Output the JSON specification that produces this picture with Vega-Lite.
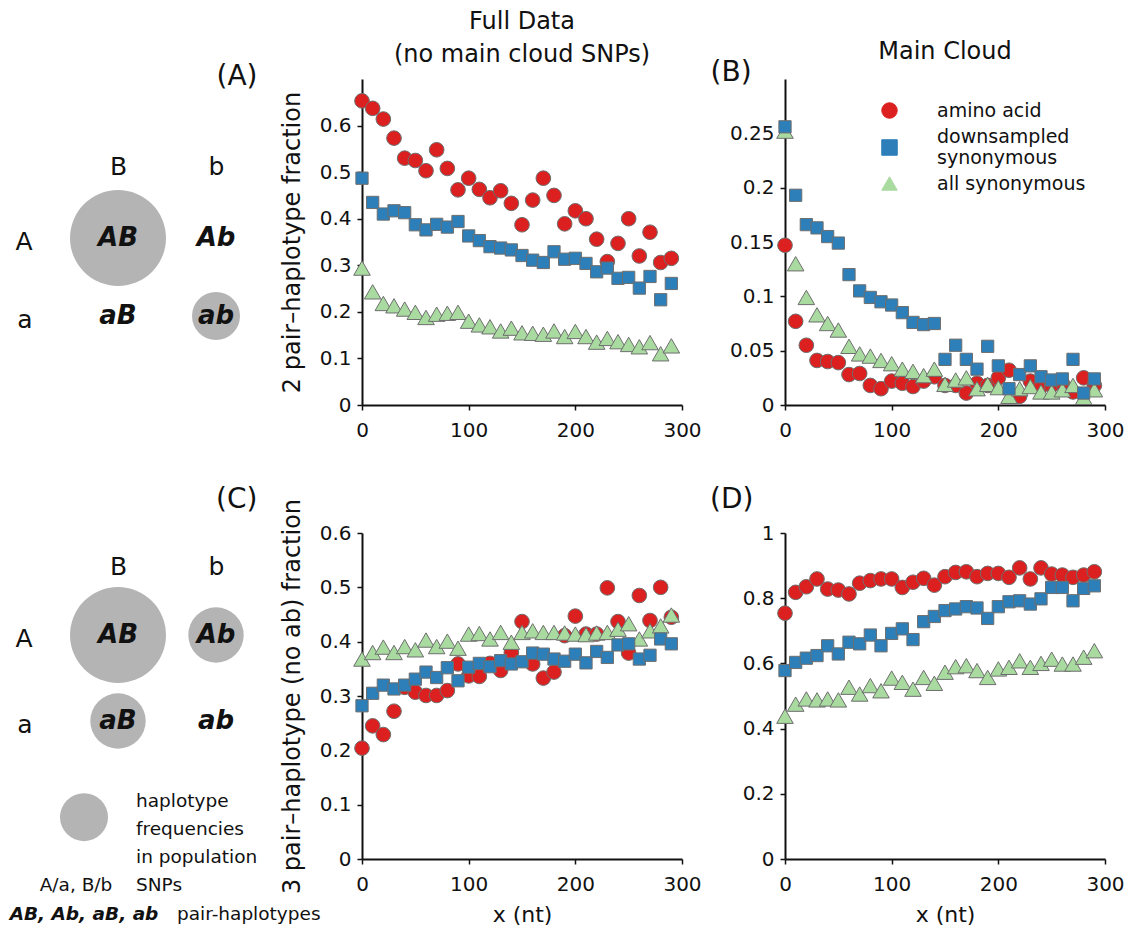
{
  "$schema": "https://vega.github.io/schema/vega-lite/v6.json",
  "padding": {"left": 9, "top": 10, "right": 4, "bottom": 2},
  "background": "white",
  "config": {
    "font": "DejaVu Sans",
    "view": {"stroke": null},
    "axis": {
      "grid": false,
      "domainColor": "#111111",
      "domainWidth": 2,
      "tickColor": "#111111",
      "tickWidth": 1.5,
      "tickSize": 5,
      "labelColor": "#111111",
      "labelFont": "DejaVu Sans",
      "labelFontSize": 20,
      "titleColor": "#111111",
      "titleFont": "DejaVu Sans",
      "titleFontWeight": "normal",
      "titleFontSize": 24
    },
    "title": {"font": "DejaVu Sans", "fontWeight": "normal", "color": "#111111"},
    "text": {"font": "DejaVu Sans", "color": "#111111"}
  },
  "columns": 3,
  "bounds": "flush",
  "align": "each",
  "spacing": {"column": 103, "row": 128},
  "resolve": {"scale": {"color": "independent", "shape": "independent"}},
  "datasets": {
    "two_pair": [
      {"snpA": "A", "snpB": "B", "haplotype": "AB", "frequency": 0.6},
      {"snpA": "A", "snpB": "b", "haplotype": "Ab", "frequency": 0},
      {"snpA": "a", "snpB": "B", "haplotype": "aB", "frequency": 0},
      {"snpA": "a", "snpB": "b", "haplotype": "ab", "frequency": 0.15}
    ],
    "three_pair": [
      {"snpA": "A", "snpB": "B", "haplotype": "AB", "frequency": 0.6},
      {"snpA": "A", "snpB": "b", "haplotype": "Ab", "frequency": 0.2},
      {"snpA": "a", "snpB": "B", "haplotype": "aB", "frequency": 0.2},
      {"snpA": "a", "snpB": "b", "haplotype": "ab", "frequency": 0}
    ],
    "full_two": [
      {"x": 0, "amino acid": 0.653, "downsampled synonymous": 0.487, "all synonymous": 0.294},
      {"x": 10, "amino acid": 0.637, "downsampled synonymous": 0.435, "all synonymous": 0.243},
      {"x": 20, "amino acid": 0.614, "downsampled synonymous": 0.41, "all synonymous": 0.218},
      {"x": 30, "amino acid": 0.573, "downsampled synonymous": 0.417, "all synonymous": 0.213},
      {"x": 40, "amino acid": 0.53, "downsampled synonymous": 0.413, "all synonymous": 0.206},
      {"x": 50, "amino acid": 0.525, "downsampled synonymous": 0.387, "all synonymous": 0.199},
      {"x": 60, "amino acid": 0.503, "downsampled synonymous": 0.376, "all synonymous": 0.188},
      {"x": 70, "amino acid": 0.548, "downsampled synonymous": 0.388, "all synonymous": 0.195},
      {"x": 80, "amino acid": 0.508, "downsampled synonymous": 0.382, "all synonymous": 0.197},
      {"x": 90, "amino acid": 0.462, "downsampled synonymous": 0.394, "all synonymous": 0.199},
      {"x": 100, "amino acid": 0.487, "downsampled synonymous": 0.363, "all synonymous": 0.18},
      {"x": 110, "amino acid": 0.463, "downsampled synonymous": 0.353, "all synonymous": 0.172},
      {"x": 120, "amino acid": 0.445, "downsampled synonymous": 0.34, "all synonymous": 0.168},
      {"x": 130, "amino acid": 0.46, "downsampled synonymous": 0.337, "all synonymous": 0.159},
      {"x": 140, "amino acid": 0.433, "downsampled synonymous": 0.333, "all synonymous": 0.165},
      {"x": 150, "amino acid": 0.387, "downsampled synonymous": 0.321, "all synonymous": 0.155},
      {"x": 160, "amino acid": 0.44, "downsampled synonymous": 0.311, "all synonymous": 0.154},
      {"x": 170, "amino acid": 0.487, "downsampled synonymous": 0.306, "all synonymous": 0.152},
      {"x": 180, "amino acid": 0.45, "downsampled synonymous": 0.329, "all synonymous": 0.159},
      {"x": 190, "amino acid": 0.389, "downsampled synonymous": 0.313, "all synonymous": 0.147},
      {"x": 200, "amino acid": 0.417, "downsampled synonymous": 0.315, "all synonymous": 0.158},
      {"x": 210, "amino acid": 0.4, "downsampled synonymous": 0.304, "all synonymous": 0.147},
      {"x": 220, "amino acid": 0.356, "downsampled synonymous": 0.286, "all synonymous": 0.135},
      {"x": 230, "amino acid": 0.308, "downsampled synonymous": 0.294, "all synonymous": 0.143},
      {"x": 240, "amino acid": 0.347, "downsampled synonymous": 0.272, "all synonymous": 0.136},
      {"x": 250, "amino acid": 0.4, "downsampled synonymous": 0.274, "all synonymous": 0.13},
      {"x": 260, "amino acid": 0.32, "downsampled synonymous": 0.251, "all synonymous": 0.125},
      {"x": 270, "amino acid": 0.371, "downsampled synonymous": 0.276, "all synonymous": 0.134},
      {"x": 280, "amino acid": 0.306, "downsampled synonymous": 0.226, "all synonymous": 0.11},
      {"x": 290, "amino acid": 0.315, "downsampled synonymous": 0.261, "all synonymous": 0.127}
    ],
    "cloud_two": [
      {"x": 0, "amino acid": 0.147, "downsampled synonymous": 0.256, "all synonymous": 0.252},
      {"x": 10, "amino acid": 0.077, "downsampled synonymous": 0.193, "all synonymous": 0.13},
      {"x": 20, "amino acid": 0.055, "downsampled synonymous": 0.166, "all synonymous": 0.099},
      {"x": 30, "amino acid": 0.041, "downsampled synonymous": 0.163, "all synonymous": 0.083},
      {"x": 40, "amino acid": 0.04, "downsampled synonymous": 0.155, "all synonymous": 0.075},
      {"x": 50, "amino acid": 0.039, "downsampled synonymous": 0.149, "all synonymous": 0.069},
      {"x": 60, "amino acid": 0.028, "downsampled synonymous": 0.12, "all synonymous": 0.054},
      {"x": 70, "amino acid": 0.029, "downsampled synonymous": 0.105, "all synonymous": 0.047},
      {"x": 80, "amino acid": 0.018, "downsampled synonymous": 0.099, "all synonymous": 0.045},
      {"x": 90, "amino acid": 0.015, "downsampled synonymous": 0.095, "all synonymous": 0.041},
      {"x": 100, "amino acid": 0.022, "downsampled synonymous": 0.092, "all synonymous": 0.038},
      {"x": 110, "amino acid": 0.02, "downsampled synonymous": 0.085, "all synonymous": 0.033},
      {"x": 120, "amino acid": 0.017, "downsampled synonymous": 0.076, "all synonymous": 0.031},
      {"x": 130, "amino acid": 0.022, "downsampled synonymous": 0.074, "all synonymous": 0.027},
      {"x": 140, "amino acid": 0.026, "downsampled synonymous": 0.075, "all synonymous": 0.033},
      {"x": 150, "amino acid": 0.018, "downsampled synonymous": 0.042, "all synonymous": 0.019},
      {"x": 160, "amino acid": 0.018, "downsampled synonymous": 0.055, "all synonymous": 0.023},
      {"x": 170, "amino acid": 0.011, "downsampled synonymous": 0.042, "all synonymous": 0.025},
      {"x": 180, "amino acid": 0.02, "downsampled synonymous": 0.033, "all synonymous": 0.015},
      {"x": 190, "amino acid": 0.018, "downsampled synonymous": 0.054, "all synonymous": 0.019},
      {"x": 200, "amino acid": 0.025, "downsampled synonymous": 0.036, "all synonymous": 0.016},
      {"x": 210, "amino acid": 0.032, "downsampled synonymous": 0.015, "all synonymous": 0.008},
      {"x": 220, "amino acid": 0.008, "downsampled synonymous": 0.028, "all synonymous": 0.015},
      {"x": 230, "amino acid": 0.022, "downsampled synonymous": 0.036, "all synonymous": 0.017},
      {"x": 240, "amino acid": 0.017, "downsampled synonymous": 0.026, "all synonymous": 0.012},
      {"x": 250, "amino acid": 0.018, "downsampled synonymous": 0.023, "all synonymous": 0.012},
      {"x": 260, "amino acid": 0.02, "downsampled synonymous": 0.024, "all synonymous": 0.014},
      {"x": 270, "amino acid": 0.012, "downsampled synonymous": 0.042, "all synonymous": 0.018},
      {"x": 280, "amino acid": 0.025, "downsampled synonymous": 0.011, "all synonymous": 0.007},
      {"x": 290, "amino acid": 0.018, "downsampled synonymous": 0.024, "all synonymous": 0.014}
    ],
    "full_three": [
      {"x": 0, "amino acid": 0.204, "downsampled synonymous": 0.282, "all synonymous": 0.368},
      {"x": 10, "amino acid": 0.245, "downsampled synonymous": 0.305, "all synonymous": 0.38},
      {"x": 20, "amino acid": 0.229, "downsampled synonymous": 0.32, "all synonymous": 0.39},
      {"x": 30, "amino acid": 0.272, "downsampled synonymous": 0.313, "all synonymous": 0.38},
      {"x": 40, "amino acid": 0.316, "downsampled synonymous": 0.32, "all synonymous": 0.391},
      {"x": 50, "amino acid": 0.307, "downsampled synonymous": 0.331, "all synonymous": 0.385},
      {"x": 60, "amino acid": 0.301, "downsampled synonymous": 0.344, "all synonymous": 0.403},
      {"x": 70, "amino acid": 0.301, "downsampled synonymous": 0.334, "all synonymous": 0.391},
      {"x": 80, "amino acid": 0.31, "downsampled synonymous": 0.352, "all synonymous": 0.401},
      {"x": 90, "amino acid": 0.359, "downsampled synonymous": 0.328, "all synonymous": 0.388},
      {"x": 100, "amino acid": 0.337, "downsampled synonymous": 0.353, "all synonymous": 0.414},
      {"x": 110, "amino acid": 0.336, "downsampled synonymous": 0.36, "all synonymous": 0.415},
      {"x": 120, "amino acid": 0.36, "downsampled synonymous": 0.354, "all synonymous": 0.405},
      {"x": 130, "amino acid": 0.347, "downsampled synonymous": 0.365, "all synonymous": 0.417},
      {"x": 140, "amino acid": 0.38, "downsampled synonymous": 0.359, "all synonymous": 0.399},
      {"x": 150, "amino acid": 0.437, "downsampled synonymous": 0.363, "all synonymous": 0.417},
      {"x": 160, "amino acid": 0.359, "downsampled synonymous": 0.379, "all synonymous": 0.42},
      {"x": 170, "amino acid": 0.333, "downsampled synonymous": 0.377, "all synonymous": 0.417},
      {"x": 180, "amino acid": 0.344, "downsampled synonymous": 0.368, "all synonymous": 0.417},
      {"x": 190, "amino acid": 0.411, "downsampled synonymous": 0.364, "all synonymous": 0.416},
      {"x": 200, "amino acid": 0.447, "downsampled synonymous": 0.377, "all synonymous": 0.414},
      {"x": 210, "amino acid": 0.414, "downsampled synonymous": 0.361, "all synonymous": 0.413},
      {"x": 220, "amino acid": 0.414, "downsampled synonymous": 0.382, "all synonymous": 0.416},
      {"x": 230, "amino acid": 0.499, "downsampled synonymous": 0.371, "all synonymous": 0.417},
      {"x": 240, "amino acid": 0.437, "downsampled synonymous": 0.394, "all synonymous": 0.423},
      {"x": 250, "amino acid": 0.379, "downsampled synonymous": 0.396, "all synonymous": 0.433},
      {"x": 260, "amino acid": 0.485, "downsampled synonymous": 0.368, "all synonymous": 0.405},
      {"x": 270, "amino acid": 0.439, "downsampled synonymous": 0.375, "all synonymous": 0.42},
      {"x": 280, "amino acid": 0.5, "downsampled synonymous": 0.405, "all synonymous": 0.429},
      {"x": 290, "amino acid": 0.445, "downsampled synonymous": 0.396, "all synonymous": 0.449}
    ],
    "cloud_three": [
      {"x": 0, "amino acid": 0.754, "downsampled synonymous": 0.578, "all synonymous": 0.438},
      {"x": 10, "amino acid": 0.818, "downsampled synonymous": 0.603, "all synonymous": 0.475},
      {"x": 20, "amino acid": 0.835, "downsampled synonymous": 0.616, "all synonymous": 0.491},
      {"x": 30, "amino acid": 0.859, "downsampled synonymous": 0.624, "all synonymous": 0.488},
      {"x": 40, "amino acid": 0.828, "downsampled synonymous": 0.654, "all synonymous": 0.491},
      {"x": 50, "amino acid": 0.825, "downsampled synonymous": 0.629, "all synonymous": 0.488},
      {"x": 60, "amino acid": 0.813, "downsampled synonymous": 0.665, "all synonymous": 0.527},
      {"x": 70, "amino acid": 0.846, "downsampled synonymous": 0.66, "all synonymous": 0.506},
      {"x": 80, "amino acid": 0.854, "downsampled synonymous": 0.687, "all synonymous": 0.532},
      {"x": 90, "amino acid": 0.859, "downsampled synonymous": 0.654, "all synonymous": 0.516},
      {"x": 100, "amino acid": 0.859, "downsampled synonymous": 0.692, "all synonymous": 0.555},
      {"x": 110, "amino acid": 0.833, "downsampled synonymous": 0.706, "all synonymous": 0.542},
      {"x": 120, "amino acid": 0.849, "downsampled synonymous": 0.673, "all synonymous": 0.521},
      {"x": 130, "amino acid": 0.861, "downsampled synonymous": 0.728, "all synonymous": 0.557},
      {"x": 140, "amino acid": 0.84, "downsampled synonymous": 0.744, "all synonymous": 0.539},
      {"x": 150, "amino acid": 0.866, "downsampled synonymous": 0.762, "all synonymous": 0.573},
      {"x": 160, "amino acid": 0.879, "downsampled synonymous": 0.767, "all synonymous": 0.59},
      {"x": 170, "amino acid": 0.881, "downsampled synonymous": 0.774, "all synonymous": 0.593},
      {"x": 180, "amino acid": 0.866, "downsampled synonymous": 0.77, "all synonymous": 0.578},
      {"x": 190, "amino acid": 0.876, "downsampled synonymous": 0.738, "all synonymous": 0.557},
      {"x": 200, "amino acid": 0.876, "downsampled synonymous": 0.774, "all synonymous": 0.583},
      {"x": 210, "amino acid": 0.864, "downsampled synonymous": 0.789, "all synonymous": 0.588},
      {"x": 220, "amino acid": 0.893, "downsampled synonymous": 0.792, "all synonymous": 0.608},
      {"x": 230, "amino acid": 0.859, "downsampled synonymous": 0.782, "all synonymous": 0.588},
      {"x": 240, "amino acid": 0.893, "downsampled synonymous": 0.798, "all synonymous": 0.6},
      {"x": 250, "amino acid": 0.874, "downsampled synonymous": 0.833, "all synonymous": 0.613},
      {"x": 260, "amino acid": 0.871, "downsampled synonymous": 0.833, "all synonymous": 0.598},
      {"x": 270, "amino acid": 0.864, "downsampled synonymous": 0.792, "all synonymous": 0.598},
      {"x": 280, "amino acid": 0.871, "downsampled synonymous": 0.83, "all synonymous": 0.619},
      {"x": 290, "amino acid": 0.881, "downsampled synonymous": 0.838, "all synonymous": 0.639}
    ]
  },
  "concat": [
    {
      "width": 214,
      "height": 326,
      "data": {"name": "two_pair"},
      "encoding": {
        "x": {"field": "snpB", "type": "nominal",
          "scale": {"type": "point", "domain": ["B", "b"], "range": [73, 171], "padding": 0},
          "axis": {"orient": "top", "offset": -95, "domain": false, "ticks": false, "tickSize": 0, "labelPadding": 0, "labelBaseline": "alphabetic", "labelAngle": 0, "labelFontSize": 25, "title": null}},
        "y": {"field": "snpA", "type": "nominal",
          "scale": {"type": "point", "domain": ["A", "a"], "range": [159, 237], "padding": 0},
          "axis": {"orient": "left", "domain": false, "ticks": false, "tickSize": 0, "labelPadding": 13, "labelFontSize": 25, "labelOffset": 3, "title": null}}
      },
      "layer": [
        {"transform": [{"filter": "datum.frequency > 0"}],
         "mark": {"type": "circle", "color": "#b4b4b4", "opacity": 1},
         "encoding": {"size": {"field": "frequency", "type": "quantitative", "scale": {"domain": [0, 1], "range": [0, 15360]}, "legend": null}}},
        {"mark": {"type": "text", "fontSize": 26, "fontWeight": "bold", "fontStyle": "italic", "baseline": "middle"},
         "encoding": {"text": {"field": "haplotype"}}}
      ]
    },
    {
      "width": 320,
      "height": 326,
      "title": {"text": ["Full Data", "(no main cloud SNPs)"], "fontSize": 24, "anchor": "middle", "frame": "group", "baseline": "bottom", "lineHeight": 32.5, "offset": -28.5},
      "data": {"name": "full_two"},
      "transform": [{"fold": ["amino acid", "downsampled synonymous", "all synonymous"], "as": ["series", "fraction"]}],
      "encoding": {
        "x": {"field": "x", "type": "quantitative", "scale": {"domain": [0, 300], "nice": false},
          "axis": {"values": [0, 100, 200, 300], "format": "d", "labelPadding": 10, "labelFlush": false, "labelOverlap": false, "title": null}},
        "y": {"field": "fraction", "type": "quantitative", "scale": {"domain": [0, 0.7], "nice": false},
          "axis": {"values": [0, 0.1, 0.2, 0.3, 0.4, 0.5, 0.6], "format": ".1~f", "labelPadding": 6, "labelOverlap": false, "title": "2 pair\u2013haplotype fraction", "titlePadding": 15}},
        "color": {"field": "series", "type": "nominal", "scale": {"domain": ["amino acid", "downsampled synonymous", "all synonymous"], "range": ["#dc1f1f", "#2c7fb8", "#a9dba1"]}, "legend": null},
        "shape": {"field": "series", "type": "nominal", "scale": {"domain": ["amino acid", "downsampled synonymous", "all synonymous"], "range": ["circle", "square", "triangle-up"]}, "legend": null}
      },
      "layer": [
        {"layer": [
          {"transform": [{"filter": "datum.series == 'amino acid'"}], "mark": {"type": "point", "filled": true, "opacity": 1, "stroke": "#6e6e6e", "strokeWidth": 1, "size": 215}},
          {"transform": [{"filter": "datum.series == 'all synonymous'"}], "mark": {"type": "point", "filled": true, "opacity": 1, "stroke": "#6e6e6e", "strokeWidth": 1, "size": 275}},
          {"transform": [{"filter": "datum.series == 'downsampled synonymous'"}], "mark": {"type": "point", "filled": true, "opacity": 1, "stroke": "#6e6e6e", "strokeWidth": 1, "size": 150}}
        ]},
        {"data": {"values": []}, "mark": {"type": "point"},
         "encoding": {"x": {"field": "x", "type": "quantitative", "axis": {"orient": "top", "domain": false, "ticks": false, "labels": false, "title": "(A)", "titleFontSize": 28, "titleX": -146, "titleY": 5, "titleAlign": "left", "titleBaseline": "alphabetic", "titleAngle": 0}}}}
      ],
      "resolve": {"axis": {"x": "independent"}}
    },
    {
      "width": 320,
      "height": 326,
      "title": {"text": "Main Cloud", "fontSize": 24, "anchor": "middle", "frame": "group", "baseline": "bottom", "offset": -30},
      "data": {"name": "cloud_two"},
      "transform": [{"fold": ["amino acid", "downsampled synonymous", "all synonymous"], "as": ["series", "fraction"]}],
      "encoding": {
        "x": {"field": "x", "type": "quantitative", "scale": {"domain": [0, 300], "nice": false},
          "axis": {"values": [0, 100, 200, 300], "format": "d", "labelPadding": 10, "labelFlush": false, "labelOverlap": false, "title": null}},
        "y": {"field": "fraction", "type": "quantitative", "scale": {"domain": [0, 0.3], "nice": false},
          "axis": {"values": [0, 0.05, 0.1, 0.15, 0.2, 0.25], "format": ".2~f", "labelPadding": 6, "labelOverlap": false, "title": null}},
        "color": {"field": "series", "type": "nominal", "scale": {"domain": ["amino acid", "downsampled synonymous", "all synonymous"], "range": ["#dc1f1f", "#2c7fb8", "#a9dba1"]},
          "legend": {"title": null, "orient": "none", "legendX": 95, "legendY": 22, "padding": 0, "labelFontSize": 19, "labelOffset": 38, "labelLimit": 0, "symbolSize": 240, "symbolStrokeColor": "#6e6e6e", "symbolStrokeWidth": 1, "symbolOpacity": 1, "rowPadding": 6, "labelColor": "#111111",
            "labelExpr": "datum.label == 'downsampled synonymous' ? ['downsampled', 'synonymous'] : datum.label",
            "encode": {"labels": {"update": {"dy": {"signal": "datum.value == 'downsampled synonymous' ? -11 : 0"}}}}}},
        "shape": {"field": "series", "type": "nominal", "scale": {"domain": ["amino acid", "downsampled synonymous", "all synonymous"], "range": ["circle", "square", "triangle-up"]},
          "legend": {"title": null, "orient": "none", "legendX": 95, "legendY": 22, "padding": 0, "labelFontSize": 19, "labelOffset": 38, "labelLimit": 0, "symbolSize": 240, "symbolStrokeColor": "#6e6e6e", "symbolStrokeWidth": 1, "symbolOpacity": 1, "rowPadding": 6, "labelColor": "#111111",
            "labelExpr": "datum.label == 'downsampled synonymous' ? ['downsampled', 'synonymous'] : datum.label",
            "encode": {"labels": {"update": {"dy": {"signal": "datum.value == 'downsampled synonymous' ? -11 : 0"}}}}}}
      },
      "layer": [
        {"layer": [
          {"transform": [{"filter": "datum.series == 'amino acid'"}], "mark": {"type": "point", "filled": true, "opacity": 1, "stroke": "#6e6e6e", "strokeWidth": 1, "size": 215}},
          {"transform": [{"filter": "datum.series == 'all synonymous'"}], "mark": {"type": "point", "filled": true, "opacity": 1, "stroke": "#6e6e6e", "strokeWidth": 1, "size": 275}},
          {"transform": [{"filter": "datum.series == 'downsampled synonymous'"}], "mark": {"type": "point", "filled": true, "opacity": 1, "stroke": "#6e6e6e", "strokeWidth": 1, "size": 150}}
        ]},
        {"data": {"values": []}, "mark": {"type": "point"},
         "encoding": {"x": {"field": "x", "type": "quantitative", "axis": {"orient": "top", "domain": false, "ticks": false, "labels": false, "title": "(B)", "titleFontSize": 28, "titleX": -75, "titleY": 1, "titleAlign": "left", "titleBaseline": "alphabetic", "titleAngle": 0}}}}
      ],
      "resolve": {"axis": {"x": "independent"}}
    },
    {
      "width": 214,
      "height": 396,
      "layer": [
        {
          "data": {"name": "three_pair"},
          "encoding": {
            "x": {"field": "snpB", "type": "nominal",
              "scale": {"type": "point", "domain": ["B", "b"], "range": [73, 171], "padding": 0},
              "axis": {"orient": "top", "offset": -41, "domain": false, "ticks": false, "tickSize": 0, "labelPadding": 0, "labelBaseline": "alphabetic", "labelAngle": 0, "labelFontSize": 25, "title": null}},
            "y": {"field": "snpA", "type": "nominal",
              "scale": {"type": "point", "domain": ["A", "a"], "range": [102, 188], "padding": 0},
              "axis": {"orient": "left", "domain": false, "ticks": false, "tickSize": 0, "labelPadding": 13, "labelFontSize": 25, "labelOffset": 3, "title": null}}
          },
          "layer": [
            {"transform": [{"filter": "datum.frequency > 0"}],
             "mark": {"type": "circle", "color": "#b4b4b4", "opacity": 1},
             "encoding": {"size": {"field": "frequency", "type": "quantitative", "scale": {"domain": [0, 1], "range": [0, 15360]}, "legend": null}}},
            {"mark": {"type": "text", "fontSize": 26, "fontWeight": "bold", "fontStyle": "italic", "baseline": "middle"},
             "encoding": {"text": {"field": "haplotype"}}}
          ]
        },
        {
          "encoding": {
            "x": {"field": "col", "type": "nominal", "scale": {"type": "point", "domain": ["symbol", "meaning"], "range": [39, 91], "padding": 0}, "axis": null},
            "y": {"field": "line", "type": "ordinal", "scale": {"type": "point", "domain": [1, 2, 3, 4, 5], "range": [268, 380.6], "padding": 0}, "axis": null}
          },
          "layer": [
            {"data": {"values": [{"col": "symbol", "line": 2, "frequency": 0.15}]},
             "mark": {"type": "circle", "color": "#b4b4b4", "opacity": 1, "yOffset": -12},
             "encoding": {"size": {"field": "frequency", "type": "quantitative", "scale": {"domain": [0, 1], "range": [0, 15360]}, "legend": null}}},
            {"data": {"values": [
                {"col": "meaning", "line": 1, "text": "haplotype"},
                {"col": "meaning", "line": 2, "text": "frequencies"},
                {"col": "meaning", "line": 3, "text": "in population"},
                {"col": "meaning", "line": 4, "text": "SNPs"}
              ]},
             "mark": {"type": "text", "align": "left", "baseline": "middle", "fontSize": 18.5},
             "encoding": {"text": {"field": "text"}}},
            {"data": {"values": [{"col": "symbol", "line": 4, "text": "A/a, B/b"}]},
             "mark": {"type": "text", "align": "center", "baseline": "middle", "fontSize": 18.5, "dx": -8},
             "encoding": {"text": {"field": "text"}}},
            {"data": {"values": [{"col": "symbol", "line": 5, "text": "AB, Ab, aB, ab"}]},
             "mark": {"type": "text", "align": "center", "baseline": "middle", "fontSize": 18.5, "fontWeight": "bold", "fontStyle": "italic"},
             "encoding": {"text": {"field": "text"}}},
            {"data": {"values": [{"col": "meaning", "line": 5, "text": "pair-haplotypes"}]},
             "mark": {"type": "text", "align": "left", "baseline": "middle", "fontSize": 18.5, "dx": 41},
             "encoding": {"text": {"field": "text"}}}
          ]
        }
      ],
      "resolve": {"scale": {"x": "independent", "y": "independent"}}
    },
    {
      "width": 320,
      "height": 326,
      "title": {"text": "(C)", "fontSize": 28, "anchor": "start", "frame": "group", "dx": -146, "baseline": "alphabetic", "offset": -37.5},
      "data": {"name": "full_three"},
      "transform": [{"fold": ["amino acid", "downsampled synonymous", "all synonymous"], "as": ["series", "fraction"]}],
      "encoding": {
        "x": {"field": "x", "type": "quantitative", "scale": {"domain": [0, 300], "nice": false},
          "axis": {"values": [0, 100, 200, 300], "format": "d", "labelPadding": 10, "labelFlush": false, "labelOverlap": false, "title": "x (nt)", "titleFontSize": 22, "titlePadding": 10}},
        "y": {"field": "fraction", "type": "quantitative", "scale": {"domain": [0, 0.6], "nice": false},
          "axis": {"values": [0, 0.1, 0.2, 0.3, 0.4, 0.5, 0.6], "format": ".1~f", "labelPadding": 6, "labelOverlap": false, "title": "3 pair\u2013haplotype (no ab) fraction", "titlePadding": 15}},
        "color": {"field": "series", "type": "nominal", "scale": {"domain": ["amino acid", "downsampled synonymous", "all synonymous"], "range": ["#dc1f1f", "#2c7fb8", "#a9dba1"]}, "legend": null},
        "shape": {"field": "series", "type": "nominal", "scale": {"domain": ["amino acid", "downsampled synonymous", "all synonymous"], "range": ["circle", "square", "triangle-up"]}, "legend": null}
      },
      "layer": [
        {"transform": [{"filter": "datum.series == 'amino acid'"}], "mark": {"type": "point", "filled": true, "opacity": 1, "stroke": "#6e6e6e", "strokeWidth": 1, "size": 215}},
        {"transform": [{"filter": "datum.series == 'all synonymous'"}], "mark": {"type": "point", "filled": true, "opacity": 1, "stroke": "#6e6e6e", "strokeWidth": 1, "size": 275}},
        {"transform": [{"filter": "datum.series == 'downsampled synonymous'"}], "mark": {"type": "point", "filled": true, "opacity": 1, "stroke": "#6e6e6e", "strokeWidth": 1, "size": 150}}
      ]
    },
    {
      "width": 320,
      "height": 326,
      "title": {"text": "(D)", "fontSize": 28, "anchor": "start", "frame": "group", "dx": -75, "baseline": "alphabetic", "offset": -12.5},
      "data": {"name": "cloud_three"},
      "transform": [{"fold": ["amino acid", "downsampled synonymous", "all synonymous"], "as": ["series", "fraction"]}],
      "encoding": {
        "x": {"field": "x", "type": "quantitative", "scale": {"domain": [0, 300], "nice": false},
          "axis": {"values": [0, 100, 200, 300], "format": "d", "labelPadding": 10, "labelFlush": false, "labelOverlap": false, "title": "x (nt)", "titleFontSize": 22, "titlePadding": 10}},
        "y": {"field": "fraction", "type": "quantitative", "scale": {"domain": [0, 1], "nice": false},
          "axis": {"values": [0, 0.2, 0.4, 0.6, 0.8, 1], "format": ".1~f", "labelPadding": 6, "labelOverlap": false, "title": null}},
        "color": {"field": "series", "type": "nominal", "scale": {"domain": ["amino acid", "downsampled synonymous", "all synonymous"], "range": ["#dc1f1f", "#2c7fb8", "#a9dba1"]}, "legend": null},
        "shape": {"field": "series", "type": "nominal", "scale": {"domain": ["amino acid", "downsampled synonymous", "all synonymous"], "range": ["circle", "square", "triangle-up"]}, "legend": null}
      },
      "layer": [
        {"transform": [{"filter": "datum.series == 'amino acid'"}], "mark": {"type": "point", "filled": true, "opacity": 1, "stroke": "#6e6e6e", "strokeWidth": 1, "size": 215}},
        {"transform": [{"filter": "datum.series == 'all synonymous'"}], "mark": {"type": "point", "filled": true, "opacity": 1, "stroke": "#6e6e6e", "strokeWidth": 1, "size": 275}},
        {"transform": [{"filter": "datum.series == 'downsampled synonymous'"}], "mark": {"type": "point", "filled": true, "opacity": 1, "stroke": "#6e6e6e", "strokeWidth": 1, "size": 150}}
      ]
    }
  ]
}
